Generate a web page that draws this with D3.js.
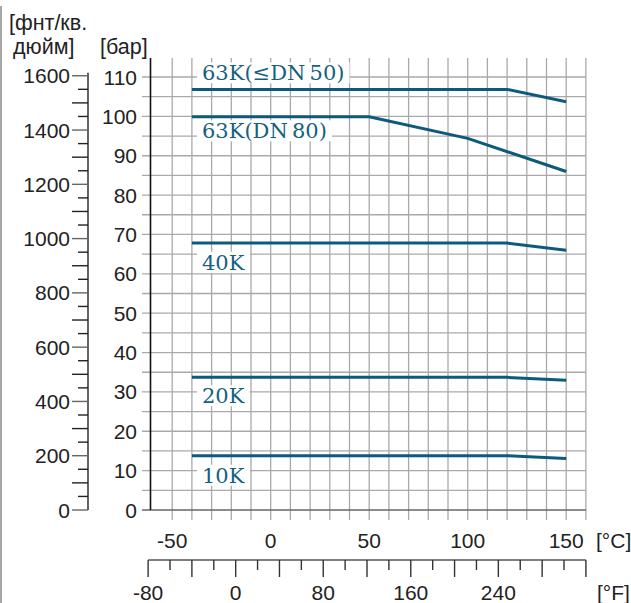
<!DOCTYPE html>
<html><head><meta charset="utf-8">
<script src="https://cdn.jsdelivr.net/npm/d3@7"></script>
<style>
html,body{margin:0;padding:0;background:#fff;}
svg{display:block;}
</style></head>
<body>
<svg id="chart" width="631" height="603"></svg>
<script>
// ---- data ----
const seriesNames = ["63K(≤DN\u200950)", "63K(DN\u200980)", "40K", "20K", "10K"];
const temp63small = [-40, 120, 150];
const press63small = [106.85, 106.85, 103.7];
const temp63DN80 = [-40, 50, 100, 150];
const press63DN80 = [99.9, 99.9, 94.4, 86.0];
const temp40K = [-40, 120, 150];
const press40K = [67.8, 67.8, 66.0];
const temp20K = [-40, 120, 150];
const press20K = [33.7, 33.7, 32.95];
const temp10K = [-40, 120, 150];
const press10K = [13.8, 13.8, 13.1];

const barTickLabels = [0, 10, 20, 30, 40, 50, 60, 70, 80, 90, 100, 110];
const psiTickLabels = [0, 200, 400, 600, 800, 1000, 1200, 1400, 1600];
const celsiusTickLabels = [-50, 0, 50, 100, 150];
const fahrenheitTickLabels = [-80, 0, 80, 160, 240];

// ---- layout ----
const svg = d3.select("#chart");
const lineColor = "#0e5a7c";
const labelColor = "#15607f";
const gridColor = "#a9a9a9";
const font = "'Liberation Sans', Arial, sans-serif";
const serif = "'DejaVu Serif', serif";

const x = d3.scaleLinear().domain([-60, 160]).range([152.5, 585.9]);
const y = d3.scaleLinear().domain([0, 110]).range([510, 77]);
const PSI_PER_BAR = 14.5038;
const yPsi = d3.scaleLinear().domain([0, 1600]).range([y(0), y(1600 / PSI_PER_BAR)]);
const xF = d3.scaleLinear().domain([-80, 320]).range([x((-80 - 32) / 1.8), x((320 - 32) / 1.8)]);

// outer left border line
svg.append("line").attr("x1", 1).attr("x2", 1).attr("y1", 6).attr("y2", 603)
  .attr("stroke", "#8a8a8a").attr("stroke-width", 1.5);

// grid
const gridG = svg.append("g");
gridG.selectAll("line.v").data(d3.range(-50, 161, 10)).enter().append("line")
  .attr("x1", d => x(d)).attr("x2", d => x(d)).attr("y1", 58).attr("y2", 520)
  .attr("stroke", gridColor).attr("stroke-width", 1.3);
gridG.selectAll("line.h").data(d3.range(5, 111, 5)).enter().append("line")
  .attr("x1", 142).attr("x2", x(160)).attr("y1", d => y(d)).attr("y2", d => y(d))
  .attr("stroke", gridColor).attr("stroke-width", 1.3);
// bottom baseline (0 bar)
svg.append("line").attr("x1", 142).attr("x2", x(160)).attr("y1", y(0)).attr("y2", y(0))
  .attr("stroke", "#666").attr("stroke-width", 1.6);
// left plot axis line
svg.append("line").attr("x1", 150.5).attr("x2", 150.5).attr("y1", 58).attr("y2", y(0))
  .attr("stroke", "#111").attr("stroke-width", 1.6);

// bar labels
svg.append("g").selectAll("text").data(barTickLabels).enter().append("text")
  .attr("x", 137).attr("y", d => y(d)).attr("dy", "0.36em")
  .attr("text-anchor", "end").attr("font-family", font).attr("font-size", 21).attr("fill", "#222")
  .text(d => d);

// psi axis
const psiAxis = svg.append("g");
psiAxis.append("line").attr("x1", 88).attr("x2", 88).attr("y1", yPsi(1600) - 3).attr("y2", yPsi(0))
  .attr("stroke", "#222").attr("stroke-width", 1.4);
psiAxis.selectAll("line.t").data(d3.range(0, 1601, 50)).enter().append("line")
  .attr("x1", d => d % 100 === 0 ? 72 : 78).attr("x2", 88)
  .attr("y1", d => yPsi(d)).attr("y2", d => yPsi(d))
  .attr("stroke", d => d % 200 === 0 ? "#666" : "#222").attr("stroke-width", 1.4);
psiAxis.selectAll("text").data(psiTickLabels).enter().append("text")
  .attr("x", 70).attr("y", d => yPsi(d)).attr("dy", "0.36em")
  .attr("text-anchor", "end").attr("font-family", font).attr("font-size", 21).attr("fill", "#222")
  .text(d => d);

// celsius labels
svg.append("g").selectAll("text").data(celsiusTickLabels).enter().append("text")
  .attr("x", d => x(d)).attr("y", 548).attr("text-anchor", "middle")
  .attr("font-family", font).attr("font-size", 21).attr("fill", "#222").text(d => d);
svg.append("text").attr("x", 596).attr("y", 548).attr("font-family", font).attr("font-size", 21)
  .attr("fill", "#222").text("[°C]");

// fahrenheit axis
const fAxis = svg.append("g");
fAxis.append("line").attr("x1", xF(-80)).attr("x2", xF(320)).attr("y1", 560).attr("y2", 560)
  .attr("stroke", "#555").attr("stroke-width", 1.6);
fAxis.selectAll("line.t").data(d3.range(-80, 321, 20)).enter().append("line")
  .attr("x1", d => xF(d)).attr("x2", d => xF(d)).attr("y1", 560)
  .attr("y2", d => d % 40 === 0 ? 577 : 570)
  .attr("stroke", "#333").attr("stroke-width", 1.4);
fAxis.selectAll("text").data(fahrenheitTickLabels).enter().append("text")
  .attr("x", d => xF(d)).attr("y", 600).attr("text-anchor", "middle")
  .attr("font-family", font).attr("font-size", 21).attr("fill", "#222").text(d => d);
svg.append("text").attr("x", 597).attr("y", 600).attr("font-family", font).attr("font-size", 21)
  .attr("fill", "#222").text("[°F]");

// unit headers
svg.append("text").attr("x", 9).attr("y", 30).attr("font-family", font).attr("font-size", 21.5)
  .attr("fill", "#222").text("[фнт/кв.");
svg.append("text").attr("x", 13).attr("y", 54).attr("font-family", font).attr("font-size", 21.5)
  .attr("fill", "#222").text("дюйм]");
svg.append("text").attr("x", 100).attr("y", 54).attr("font-family", font).attr("font-size", 21.5)
  .attr("fill", "#222").text("[бар]");

// series lines
const allTemps = [temp63small, temp63DN80, temp40K, temp20K, temp10K];
const allPress = [press63small, press63DN80, press40K, press20K, press10K];
const line = d3.line().x(d => x(d[0])).y(d => y(d[1]));
const labelDy = [-9, 21.6, 26.7, 26, 27];

allTemps.forEach((ts, i) => {
  const pts = ts.map((t, j) => [t, allPress[i][j]]);
  svg.append("path").datum(pts).attr("d", line)
    .attr("fill", "none").attr("stroke", lineColor).attr("stroke-width", 3);
});

allTemps.forEach((ts, i) => {
  const g = svg.append("g");
  const t = g.append("text").attr("x", 202).attr("y", y(allPress[i][0]) + labelDy[i])
    .attr("font-family", serif).attr("font-size", 21).attr("fill", labelColor)
    .text(seriesNames[i]);
  const bb = t.node().getBBox();
  g.insert("rect", "text").attr("x", bb.x - 5).attr("y", bb.y + 1)
    .attr("width", bb.width + 10).attr("height", bb.height - 3).attr("fill", "#fff");
});
</script>
</body></html>
